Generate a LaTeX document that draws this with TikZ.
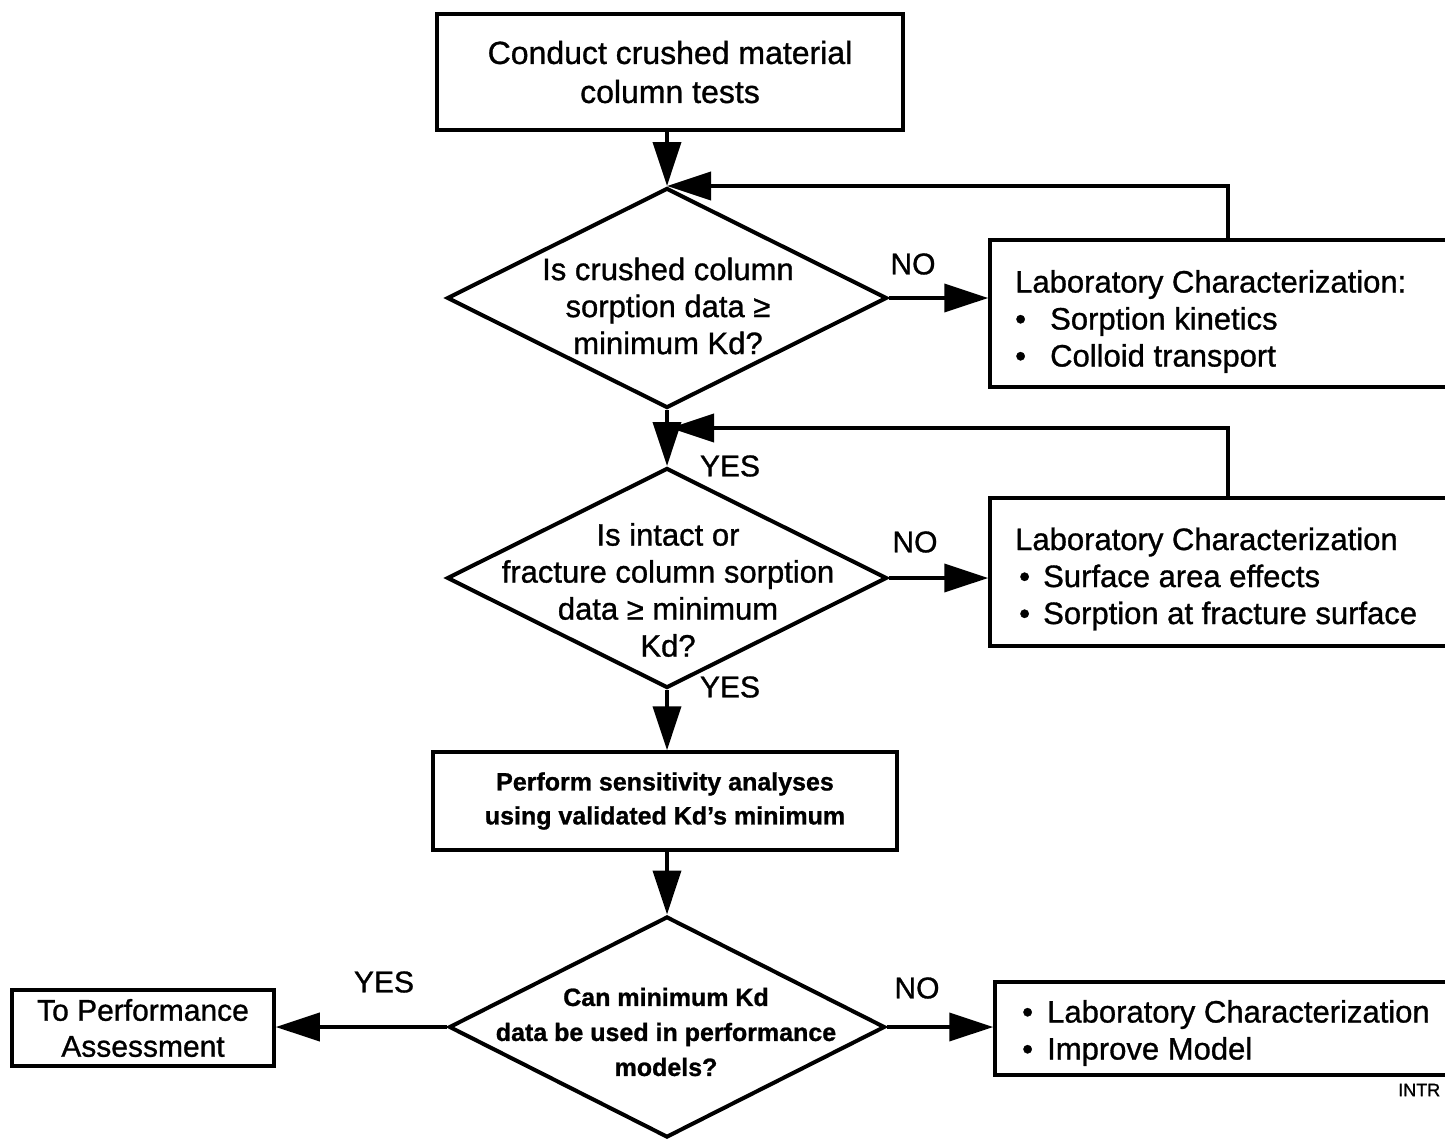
\documentclass[tikz,border=0pt]{standalone}
\usepackage{fontspec}
\setmainfont{Liberation Sans}[FakeBold=1]
\usetikzlibrary{shapes.geometric,arrows.meta}
\newcommand{\fsz}[2]{\fontsize{#1}{#2}\selectfont}
\newcommand{\bul}[1]{\makebox[#1][l]{\textbullet}}
\begin{document}
\begin{tikzpicture}[x=1pt,y=-1pt,
  every node/.style={font=\fsz{31}{37}},
  box/.style={draw, line width=3.5pt, rectangle, inner sep=0pt, align=center},
  frame/.style={draw, line width=3.5pt, rectangle, inner sep=0pt},
  ltext/.style={inner sep=0pt, align=left, anchor=west},
  decision/.style={draw, line width=4pt, diamond, inner sep=0pt},
  dtext/.style={align=center, inner sep=0pt},
  arr/.style={line width=3.8pt, -{Triangle[length=44pt,width=28pt]}},
  lab/.style={inner sep=0pt, font=\fsz{30}{36}}]
\path[use as bounding box] (0,0) rectangle (1445,1138);
\clip (0,0) rectangle (1445,1138);

% main column
\node[box, minimum width=466pt, minimum height=116pt, font=\fsz{32}{39}]
  (b1) at (670,72) {Conduct crushed material\\column tests};

\node[decision, minimum width=440pt, minimum height=220pt] (d1) at (667,298) {};
\node[dtext] (d1t) at (668,306) {Is crushed column\\sorption data ≥\\minimum Kd?};

\node[decision, minimum width=440pt, minimum height=220pt] (d2) at (667,578) {};
\node[dtext] (d2t) at (668,590) {Is intact or\\fracture column sorption\\data ≥ minimum\\Kd?};

\node[box, minimum width=464pt, minimum height=98pt, font=\bfseries\fsz{25}{34}]
  (b4) at (665,801) {Perform sensitivity analyses\\using validated Kd's minimum};

\node[decision, minimum width=436pt, minimum height=221pt] (d3) at (667,1027) {};
\node[dtext, font=\bfseries\fsz{25}{35}] (d3t) at (666,1032)
  {Can minimum Kd\\data be used in performance\\models?};

\node[box, minimum width=262pt, minimum height=76pt, font=\fsz{30}{36}]
  (b5) at (143,1028) {To Performance\\Assessment};

% side boxes, open past the right edge
\node[frame, minimum width=476pt, minimum height=147pt] (b2) at (1228,313.5) {};
\node[ltext] (b2t) at (1015,321.5)
  {Laboratory Characterization:\\\bul{35pt}Sorption kinetics\\\bul{35pt}Colloid transport};

\node[frame, minimum width=476pt, minimum height=148pt] (b3) at (1228,572) {};
\node[ltext] (b3t) at (1015,579)
  {Laboratory Characterization\\\hspace*{4pt}\bul{24pt}Surface area effects\\\hspace*{4pt}\bul{24pt}Sorption at fracture surface};

\node[frame, minimum width=471pt, minimum height=93pt] (b6) at (1230.5,1028.5) {};
\node[ltext] (b6t) at (1022,1033)
  {\bul{25pt}Laboratory Characterization\\\bul{25pt}Improve Model};

\coordinate (j2) at (670,428);

% connectors
\draw[arr] (d1.north |- b1.south) -- (d1.north);
\draw[arr] (d1.south) -- (d2.north);
\draw[arr] (d2.south) -- (d2.south |- b4.north);
\draw[arr] (d3.north |- b4.south) -- (d3.north);
\draw[arr] (d1.east) -- (b2.west |- d1.east);
\draw[arr] (d2.east) -- (b3.west |- d2.east);
\draw[arr] (d3.east) -- (b6.west |- d3.east);
\draw[arr] (d3.west) -- (b5.east |- d3.west);
\draw[arr] (b2.north) |- (d1.north);
\draw[arr] (b3.north) |- (j2);

% branch labels
\node[lab] (n1) at (913,264) {NO};
\node[lab] (n2) at (915,542) {NO};
\node[lab] (n3) at (917,988) {NO};
\node[lab] (y1) at (730,466) {YES};
\node[lab] (y2) at (730,687) {YES};
\node[lab] (y3) at (384,982) {YES};

\node[inner sep=0pt, anchor=west, font=\fsz{18}{20}] (tag) at (1398,1090) {INTR};
\end{tikzpicture}
\end{document}
